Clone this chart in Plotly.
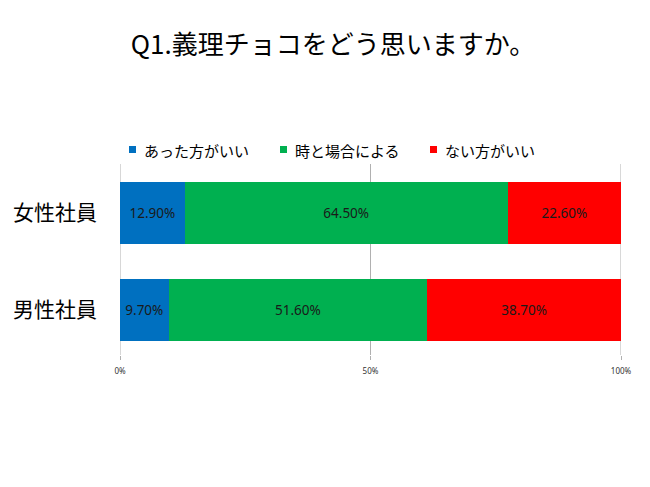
import plotly.graph_objects as go

title = "Q1.義理チョコをどう思いますか。"
categories = ["男性社員", "女性社員"]
series_names = ["あった方がいい", "時と場合による", "ない方がいい"]
series_values = [
    [9.7, 12.9],
    [51.6, 64.5],
    [38.7, 22.6],
]
colors = ["#0070C0", "#00B050", "#FF0000"]
tick_vals = [0, 50, 100]
tick_text = ["0%", "50%", "100%"]

JP = "Noto Sans CJK JP"
GRID = "#B0B0B0"

fig = go.Figure()
for name, vals, col in zip(series_names, series_values, colors):
    fig.add_trace(go.Bar(
        y=categories, x=vals, name=name, orientation="h",
        marker=dict(color=col, line=dict(width=0)),
        texttemplate="%{x:.2f}%", textposition="inside",
        insidetextanchor="middle", textangle=0,
        insidetextfont=dict(family="Noto Sans", size=13.5, color="#1a1a1a"),
        showlegend=False,
    ))

# edge gridlines (plotly omits gridlines at the range edges)
for tv in (tick_vals[0], tick_vals[-1]):
    fig.add_shape(type="line", xref="x", yref="paper", x0=tv, x1=tv,
                  y0=0, y1=1, line=dict(color=GRID, width=1), layer="below")

# legend built as shapes + annotations
leg_x = [129, 280, 430]
W, H = 650, 487
for xpx, name, col in zip(leg_x, series_names, colors):
    fig.add_shape(type="rect", xref="paper", yref="paper",
                  x0=(xpx - 120) / 501, x1=(xpx + 7 - 120) / 501,
                  y0=(355 - 153) / 191, y1=(355 - 146) / 191,
                  fillcolor=col, line=dict(width=0))
    fig.add_annotation(xref="paper", yref="paper",
                       x=(xpx + 13 - 120) / 501, y=(355 - 150) / 191,
                       xanchor="left", yanchor="middle", showarrow=False,
                       text=name, font=dict(family=JP, size=15, color="#000"))

fig.update_layout(
    width=W, height=H,
    margin=dict(l=120, r=29, t=164, b=132),
    barmode="stack", bargap=0.36,
    plot_bgcolor="white", paper_bgcolor="white",
    title=dict(text=title, x=333 / W, xanchor="center", xref="container",
               y=1 - 45 / H, yanchor="middle", yref="container",
               font=dict(family=JP, size=26, color="#000")),
    xaxis=dict(range=[0, 100], tickvals=tick_vals, ticktext=tick_text,
               showgrid=True, gridcolor=GRID, gridwidth=1,
               zeroline=False, showline=False,
               ticks="outside", ticklen=4, tickcolor=GRID,
               ticklabelstandoff=4,
               tickfont=dict(family="Noto Sans", size=8, color="#333")),
    yaxis=dict(range=[-0.464, 1.505], showgrid=False, zeroline=False,
               showline=False, ticks="", ticklabelstandoff=22,
               tickfont=dict(family=JP, size=21, color="#000")),
)

fig.write_html("out.html")
